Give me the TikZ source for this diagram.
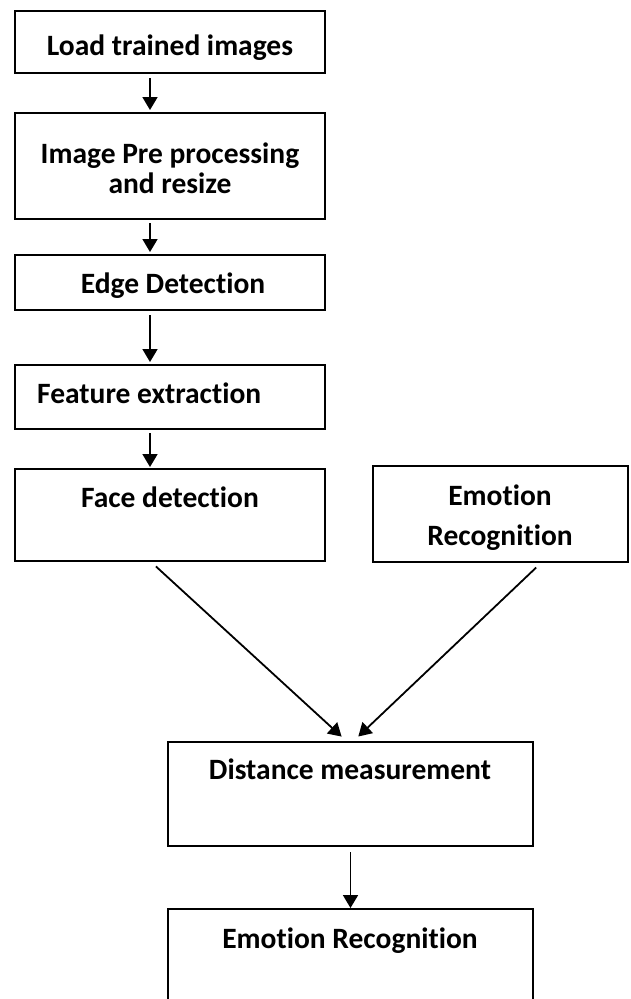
\documentclass[tikz,border=0pt]{standalone}
\usepackage{fontspec}
\setmainfont{Carlito}[Ligatures={NoCommon,NoRare,NoDiscretionary},RawFeature={-liga;-clig;-dlig}]
\usetikzlibrary{arrows.meta,calc}
\begin{document}
\begin{tikzpicture}[x=1pt,y=-1pt,
  box/.style={draw=black, line width=1.9pt, rectangle, inner sep=0pt, outer sep=0pt, anchor=north west},
  lbl/.style={inner sep=0pt, anchor=base, font=\fontsize{29.5}{30}\selectfont\bfseries},
  arr/.style={line width=1.8pt, -{Triangle[length=13pt,width=15pt]}},
]
\fill[white] (0,0) rectangle (630,999);
\useasboundingbox (0,0) rectangle (630,999);

\node[box, minimum width=310pt, minimum height=62pt]  (b1) at (15,11) {};
\node[box, minimum width=310pt, minimum height=106pt] (b2) at (15,113) {};
\node[box, minimum width=310pt, minimum height=55pt]  (b3) at (15,255) {};
\node[box, minimum width=310pt, minimum height=64pt]  (b4) at (15,365) {};
\node[box, minimum width=310pt, minimum height=92pt]  (b5) at (15,469) {};
\node[box, minimum width=255pt, minimum height=96pt]  (b6) at (373,466) {};
\node[box, minimum width=365pt, minimum height=104pt] (b7) at (168,742) {};
\node[box, minimum width=365pt, minimum height=112pt] (b8) at (168,909) {};

\node[lbl] (t1) at (170,55) {Load trained images};
\node[lbl] (t2a) at (170,163) {Image Pre processing};
\node[lbl] (t2b) at (170,193) {and resize};
\node[lbl] (t3) at (173,293) {Edge Detection};
\node[lbl, anchor=base west] (t4) at (37,403) {Feature extraction};
\node[lbl] (t5) at (170,507) {Face detection};
\node[lbl] (t6a) at (500,505) {Emotion};
\node[lbl] (t6b) at (500,545) {Recognition};
\node[lbl] (t7) at (350,779) {Distance measurement};
\node[lbl] (t8) at (350,948) {Emotion Recognition};

\coordinate (ax) at (150,0);
\coordinate (bx) at (542,0);
\draw[arr, shorten <=5pt, shorten >=3pt] (b1.south -| ax) -- (b2.north -| ax);
\draw[arr, shorten <=4pt, shorten >=3pt] (b2.south -| ax) -- (b3.north -| ax);
\draw[arr, shorten <=5pt, shorten >=3pt] (b3.south -| ax) -- (b4.north -| ax);
\draw[arr, shorten <=4pt, shorten >=2pt] (b4.south -| ax) -- (b5.north -| ax);
\draw[arr, shorten <=8pt, shorten >=8pt] (b5.south -| ax) -- ($(b7.north)+(-3,0)$);
\draw[arr, shorten <=8pt, shorten >=8pt] (b6.south -| bx) -- ($(b7.north)+(2,0)$);
\draw[arr, shorten <=6pt, shorten >=1pt] (b7.south) -- (b8.north);
\end{tikzpicture}
\end{document}
